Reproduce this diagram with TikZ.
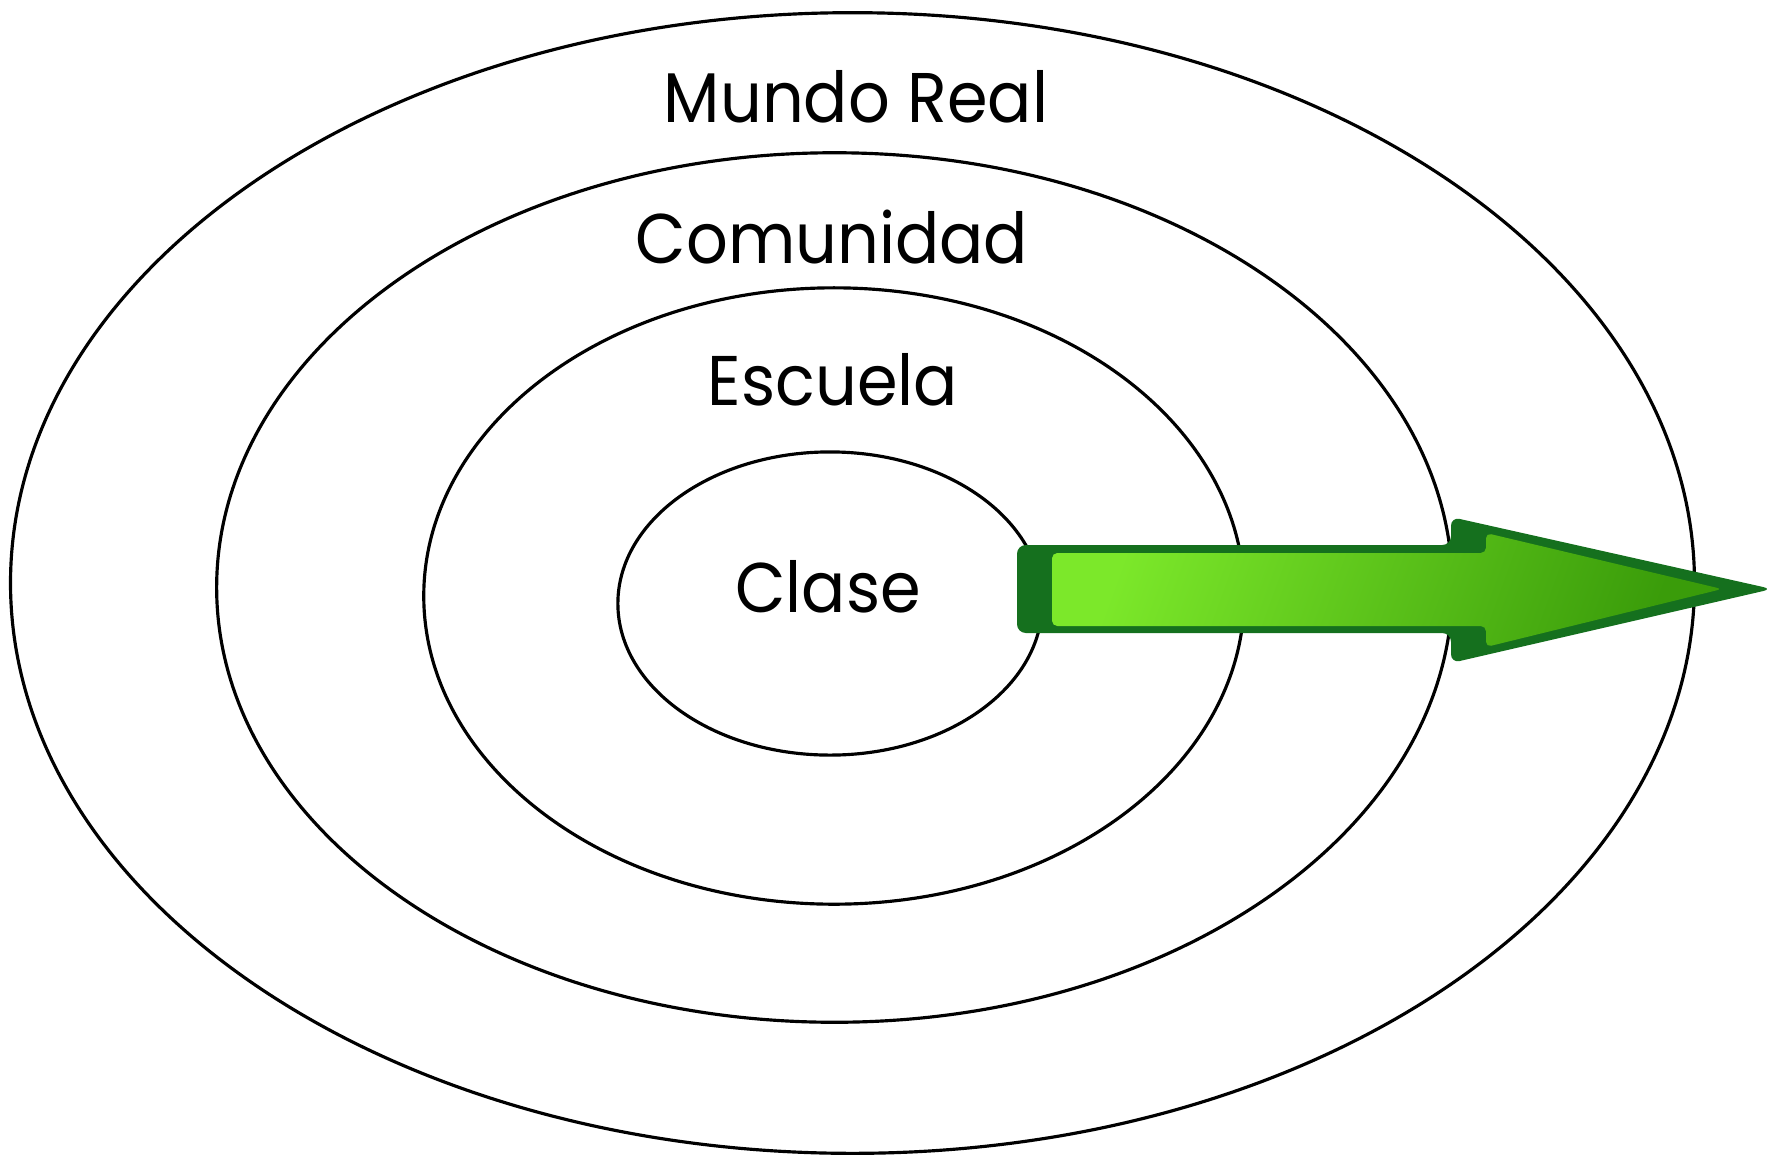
\documentclass[tikz,border=0pt]{standalone}
\usepackage{fontspec}
\setmainfont{Poppins}[FakeStretch=0.93]
\usetikzlibrary{calc}
\definecolor{arrowedge}{HTML}{15701E}
\definecolor{arrowlight}{HTML}{7CE82A}
\definecolor{arrowdark}{HTML}{3A9C0A}
\tikzset{
	ring/.style={line width=0.9pt, color=black},
	ringlabel/.style={anchor=base, inner sep=0pt, font=\fontsize{20}{24}\selectfont}
}

\begin{document}
\begin{tikzpicture}[x=0.01cm, y=-0.01cm]
			%%%%% START %%%%%
			\useasboundingbox (0, 0) rectangle (1773, 1157);
			
			\draw[ring] (852.5, 583) ellipse (8.415cm and 5.70cm);
			\draw[ring] (834.5, 587.5) ellipse (6.175cm and 4.345cm);
			\draw[ring] (834, 596) ellipse (4.10cm and 3.08cm);
			\draw[ring] (830, 603.5) ellipse (2.12cm and 1.515cm);
			
			\node[ringlabel] (mundo) at (856, 122) {Mundo Real};
			\node[ringlabel] (comunidad) at (832, 263) {Comunidad};
			\node[ringlabel] (escuela) at (833, 405) {Escuela};
			\node[ringlabel] (clase) at (828, 612) {Clase};
			
			%%%%% ARROW %%%%%
			\fill[arrowedge, rounded corners=2.5pt] (1017, 545) -- (1451, 545) -- (1451, 517)
				-- (1772, 589) -- (1451, 663) -- (1451, 633) -- (1017, 633) -- cycle;
			\shade[left color=arrowlight, right color=arrowdark, shading angle=70, rounded corners=1.5pt]
				(1052, 553) -- (1486, 553) -- (1486, 533) -- (1722, 589)
				-- (1486, 647) -- (1486, 626) -- (1052, 626) -- cycle;
			%%%%% END %%%%%
\end{tikzpicture}
\end{document}
